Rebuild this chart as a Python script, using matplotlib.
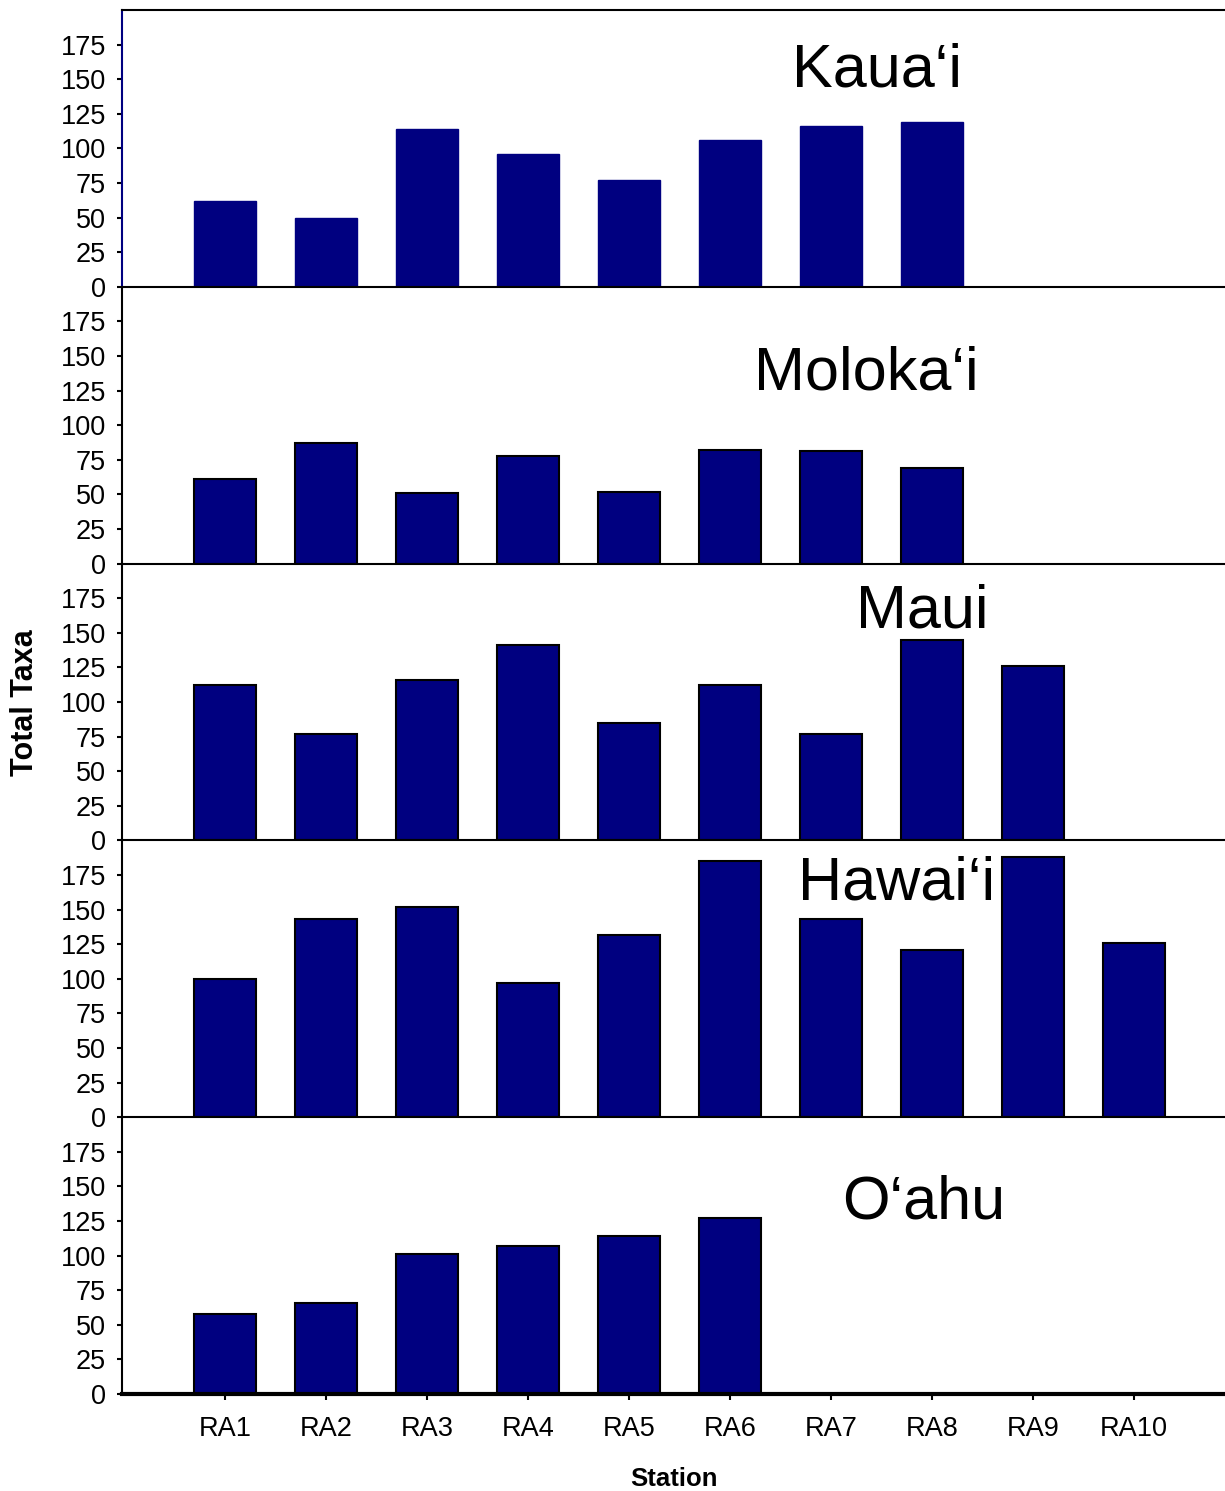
import matplotlib.pyplot as plt
import numpy as np

plt.rcParams['font.family'] = ['Liberation Sans', 'DejaVu Sans']

stations = ['RA1', 'RA2', 'RA3', 'RA4', 'RA5', 'RA6', 'RA7', 'RA8', 'RA9', 'RA10']
islands = ['Kaua\u2018i', 'Moloka\u2018i', 'Maui', 'Hawai\u2018i', 'O\u2018ahu']

kauai = [62, 50, 114, 96, 77, 106, 116, 119]
molokai = [61, 87, 51, 78, 52, 82, 81, 69]
maui = [112, 77, 116, 141, 85, 112, 77, 145, 126]
hawaii = [100, 143, 152, 97, 132, 185, 143, 121, 188, 126]
oahu = [58, 66, 101, 107, 114, 127]
series = [kauai, molokai, maui, hawaii, oahu]

# island name anchor (x index, baseline value)
label_pos = [(6.45, 145), (6.35, 126), (6.9, 154), (6.65, 157.5), (6.92, 127)]

navy = '#000080'
fig = plt.figure(figsize=(12.25, 14.91), dpi=100)
W, H = 1225, 1491
left = 122 / W
top_px, bot_px = 10, 1394
ph = (bot_px - top_px) / 5

for k, (name, vals) in enumerate(zip(islands, series)):
    y0 = bot_px - (4 - k) * ph
    ax = fig.add_axes([left, (H - y0) / H, 1 - left, ph / H])
    x = np.arange(len(vals))
    if k == 0:
        ax.bar(x, vals, width=0.61, color=navy, edgecolor=navy, linewidth=1)
    else:
        ax.bar(x, vals, width=0.61, color=navy, edgecolor='black', linewidth=1.5)
    ax.set_xlim(-1.02, 9.9)
    ax.set_ylim(0, 200)
    ax.set_yticks(np.arange(0, 176, 25))
    ax.tick_params(axis='y', labelsize=19.5, length=3.6, width=1.5, direction='out', pad=8)
    ax.spines['right'].set_visible(False)
    ax.spines['top'].set_visible(k == 0)
    ax.spines['top'].set_linewidth(1.5)
    ax.spines['left'].set_linewidth(1.5)
    ax.spines['bottom'].set_linewidth(1.5)
    if k == 0:
        ax.spines['left'].set_color(navy)
    ax.text(*label_pos[k], name, fontsize=44, ha='center', va='baseline')
    if k == 4:
        ax.set_xticks(np.arange(len(stations)))
        ax.set_xticklabels(stations)
        ax.tick_params(axis='x', labelsize=19.5, length=4, width=1.5, pad=12)
        ax.spines['bottom'].set_linewidth(3)
        ax.set_xlabel('Station', fontsize=18.5, fontweight='bold', labelpad=18)
    else:
        ax.set_xticks([])
    ax.patch.set_alpha(0)

fig.text(25 / W, 1 - 703 / H, 'Total Taxa', rotation=90, fontsize=22,
         fontweight='bold', ha='center', va='center')

fig.savefig('out.png', dpi=100)
